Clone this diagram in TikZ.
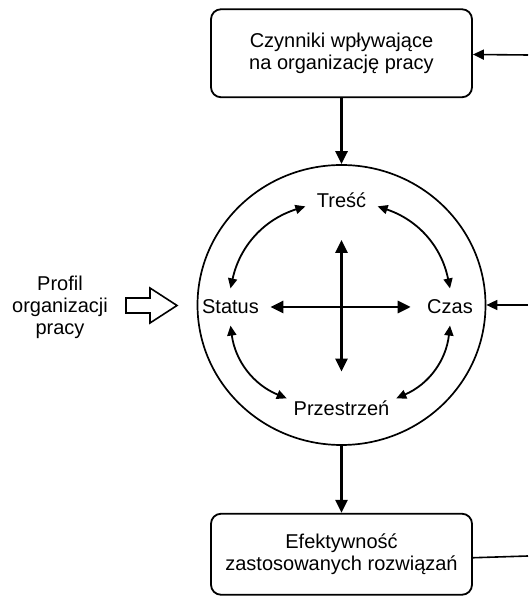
\documentclass[tikz,border=0pt]{standalone}
\usepackage{fontspec}
\setmainfont{Liberation Sans}
\usetikzlibrary{arrows.meta, positioning, shapes.geometric}

\begin{document}
\begin{tikzpicture}[
        x=1pt, y=1pt,
        font=\fontsize{20}{22}\selectfont,
        box/.style={draw, line width=1.8pt, rectangle, rounded corners=10pt, align=center, minimum width=261pt},
        tag/.style={inner sep=2pt, outer sep=9.5pt},
        arrow/.style={line width=2.8pt, >={Triangle[length=13pt, width=12pt]}},
        link/.style={<->, line width=1.8pt, >={Triangle[length=10pt, width=9pt]}},
        back/.style={->, line width=1.6pt, >={Triangle[length=11pt, width=10pt]}}
    ]
    \useasboundingbox (0,0) rectangle (528,597);
    % Nodes
    \node (core) [draw, ellipse, line width=1.7pt, minimum width=288pt, minimum height=280pt, inner sep=0pt] at (341.5,292) {};
    \node (factors) [box, minimum height=88pt, above=66pt of core] {Czynniki wpływające\\na organizację pracy};
    \node (effect) [box, minimum height=81pt, below=67pt of core] {Efektywność\\zastosowanych rozwiązań};
    \node (content) [tag] at (341.5,397) {Treść};
    \node (status) [tag] at (230.5,290) {Status};
    \node (time) [tag] at (450,290) {Czas};
    \node (space) [tag, outer sep=5pt] at (341.5,189) {Przestrzeń};
    \node (profile) [align=center] at (60,290) {Profil\\organizacji\\pracy};
    \coordinate (fbtop) at (528,542);
    \coordinate (fbmid) at (528,292);
    \coordinate (fbbot) at (528,41);

    % Arrows
    \draw[arrow, ->] (factors) -- (core);
    \draw[arrow, ->] (core) -- (effect);
    \draw[arrow, <->, shorten >=5pt] (status) -- (time);
    \draw[arrow, <->, shorten <=21pt, shorten >=22pt] (content) -- (space);
    \draw[link] (status.north) to[bend left=30] (content.190);
    \draw[link] (content.350) to[bend left=30] (time.north);
    \draw[link] (time.south) to[bend left=30] (space.10);
    \draw[link] (space.170) to[bend left=30] (status.south);

    % Feedback
    \draw[back] (fbtop) -- (factors);
    \draw[back] (fbmid) -- (core);
    \draw[line width=1.6pt] ([yshift=-3.5pt]effect.east) -- (fbbot);

    % Hollow arrow
    \draw[line width=1.6pt, line join=miter] (126,284) -- (150,284) -- (150,274) -- (177,291.5)
        -- (150,309) -- (150,299) -- (126,299) -- cycle;
\end{tikzpicture}
\end{document}
